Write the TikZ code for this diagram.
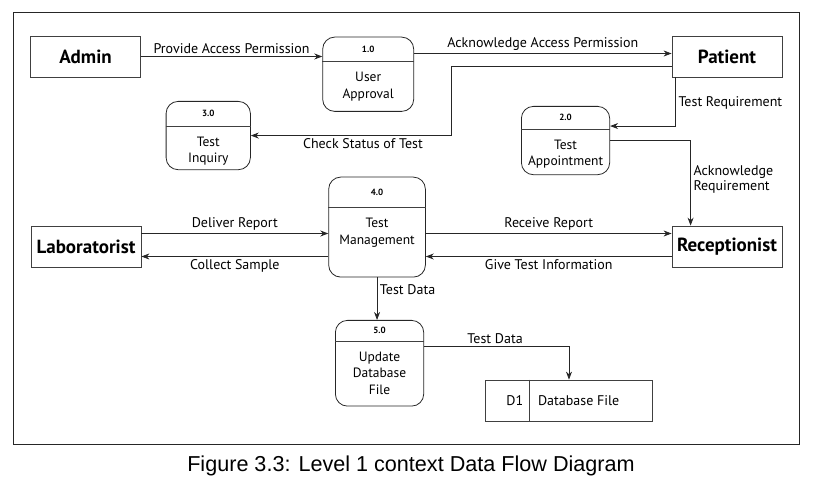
\documentclass[tikz,border=0pt]{standalone}
\usepackage{fontspec}
\setmainfont{PT Sans}
\newfontfamily\capfont{Liberation Sans}
\usetikzlibrary{arrows.meta,calc}

\tikzset{
  entity/.style={draw=black!75, line width=0.8pt, minimum width=110pt, minimum height=41pt,
    inner sep=1pt, font=\bfseries\fontsize{19}{21}\selectfont},
  proc/.style={draw=black!85, line width=0.8pt, rounded corners=12pt, inner sep=0pt},
  procid/.style={font=\bfseries\fontsize{9}{10}\selectfont, inner sep=0pt},
  proctext/.style={font=\fontsize{13.5}{16.7}\selectfont, align=center, inner sep=0pt},
  flow/.style={draw=black!85, line width=0.8pt, -{Stealth[length=8pt,width=6pt]}},
  lbl/.style={font=\fontsize{14}{14.7}\selectfont, inner sep=2.5pt},
  store/.style={draw=black!75, line width=0.8pt, inner sep=0pt}
}

% process: name, top left, width, height, header, number, text
\newcommand{\procbox}[7]{%
  \node[proc, anchor=north west, minimum width=#3, minimum height=#4] (#1) at #2 {};
  \draw[black!75, line width=0.8pt] ([yshift=-#5]#1.north west) -- ([yshift=-#5]#1.north east);
  \node[procid] (#1id) at ([yshift=-#5/2]#1.north) {#6};
  \node[proctext, anchor=north] (#1txt) at ([yshift=-#5-10.5pt]#1.north) {#7};
}

\begin{document}
\begin{tikzpicture}[x=1pt,y=-1pt]
  \useasboundingbox (0,0) rectangle (823,486);
  % frame and caption
  \draw[black!85, line width=0.8pt] (13,12) rectangle (799,444);
  \node[font=\capfont\fontsize{21.6}{24}\selectfont] (caption) at (411,466)
    {Figure 3.3: Level 1 context Data Flow Diagram};

  % external entities
  \node[entity] (admin) at (85.5,56.5) {Admin};
  \node[entity] (patient) at (727,56.5) {Patient};
  \node[entity] (lab) at (86,246.5) {Laboratorist};
  \node[entity] (recep) at (727,246.5) {Receptionist};

  % processes
  \procbox{p1}{(322.3,36.7)}{91pt}{74.3pt}{25pt}{1.0}{User\\Approval}
  \procbox{p2}{(521,106)}{88.3pt}{68.3pt}{23pt}{2.0}{Test\\Appointment}
  \procbox{p3}{(165.7,101)}{84.3pt}{68.3pt}{25pt}{3.0}{Test\\Inquiry}
  \procbox{p4}{(328.3,176.7)}{96.7pt}{100pt}{30.6pt}{4.0}{Test\\Management}
  \procbox{p5}{(335,320)}{88.3pt}{85.7pt}{21pt}{5.0}{Update\\Database\\File}

  % data store
  \node[store, minimum width=166.6pt, minimum height=41pt] (d1) at (569,400.5) {};
  \draw[black!75, line width=0.8pt] ([xshift=44.3pt]d1.north west) -- ([xshift=44.3pt]d1.south west);
  \node[lbl] (d1id) at (514.8,400.5) {D1};
  \node[lbl] (d1name) at (578.7,400.5) {Database File};

  % data flows
  \draw[flow] (admin.east) -- (admin.east -| p1.west)
    node[lbl, above, midway] {Provide Access Permission};
  \coordinate (ack) at ([yshift=3pt]patient.west);
  \draw[flow] (ack -| p1.east) -- (ack)
    node[lbl, above, midway] {Acknowledge Access Permission};
  \draw[flow] ([yshift=-10pt]patient.west) -- ++(-220.6,0) |- (p3.east)
    node[lbl, below, pos=0.72] {Check Status of Test};
  \draw[flow] ([xshift=4pt]patient.south west) |- ([yshift=14.5pt]p2.east)
    node[lbl, right, pos=0.26] {Test Requirement};
  \draw[flow] (p2.east) -| ([xshift=19pt]recep.north west)
    node[lbl, right, align=left, pos=0.73] {Acknowledge\\Requirement};

  \coordinate (labtop) at ([yshift=13pt]lab.east);
  \coordinate (labbot) at ([yshift=-10pt]lab.east);
  \coordinate (rectop) at ([yshift=13pt]recep.west);
  \coordinate (recbot) at ([yshift=-10pt]recep.west);
  \draw[flow] (labtop) -- (labtop -| p4.west)
    node[lbl, above, midway] {Deliver Report};
  \draw[flow] (labbot -| p4.west) -- (labbot)
    node[lbl, below, midway] {Collect Sample};
  \draw[flow] (rectop -| p4.east) -- (rectop)
    node[lbl, above, midway] {Receive Report};
  \draw[flow] (recbot) -- (recbot -| p4.east)
    node[lbl, below, midway] {Give Test Information};

  \draw[flow] (p4.south) -- (p4.south |- p5.north)
    node[lbl, right, pos=0.28] {Test Data};
  \draw[flow] ([yshift=17pt]p5.east) -| (d1.north)
    node[lbl, above, pos=0.245] {Test Data};
\end{tikzpicture}
\end{document}
